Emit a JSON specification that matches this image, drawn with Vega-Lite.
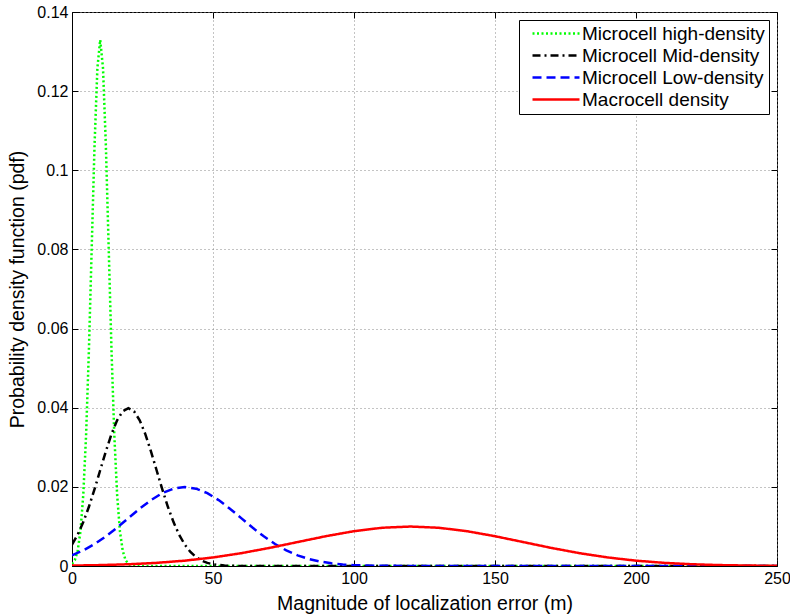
{
  "$schema": "https://vega.github.io/schema/vega-lite/v6.json",
  "autosize": {"type": "none"},
  "padding": {"left": 72, "top": 12, "right": 13, "bottom": 50},
  "width": 705,
  "height": 554,
  "background": "white",
  "config": {
    "font": "Liberation Sans",
    "view": {"stroke": "black", "strokeWidth": 1},
    "axis": {
      "labelFont": "Liberation Sans",
      "titleFont": "Liberation Sans",
      "labelFontSize": 16,
      "titleFontSize": 19.5,
      "labelColor": "black",
      "titleColor": "black",
      "titleFontWeight": "normal",
      "domainColor": "black",
      "tickColor": "black",
      "gridColor": "#888888",
      "gridDash": [1, 3],
      "gridWidth": 1,
      "tickSize": -6,
      "labelPadding": 10,
      "labelFlush": false,
      "labelOverlap": false
    },
    "legend": {
      "title": null, "orient": "top-right", "offset": 8,
      "fillColor": "white", "strokeColor": "black", "padding": 4,
      "symbolType": "M-4,0H4", "symbolSize": 138, "symbolStrokeWidth": 2.5, "symbolOffset": 23.5,
      "labelFontSize": 19, "labelFont": "Liberation Sans", "labelColor": "black",
      "labelLimit": 300, "rowPadding": 2, "labelOffset": 16.5
    }
  },
  "data": {"values": [
    {"s": "Microcell high-density", "x": 0, "y": 0.00051},
    {"s": "Microcell high-density", "x": 1, "y": 0.00148},
    {"s": "Microcell high-density", "x": 2, "y": 0.0038},
    {"s": "Microcell high-density", "x": 3, "y": 0.00874},
    {"s": "Microcell high-density", "x": 4, "y": 0.018},
    {"s": "Microcell high-density", "x": 5, "y": 0.03316},
    {"s": "Microcell high-density", "x": 6, "y": 0.05467},
    {"s": "Microcell high-density", "x": 7, "y": 0.08066},
    {"s": "Microcell high-density", "x": 8, "y": 0.10648},
    {"s": "Microcell high-density", "x": 9, "y": 0.12579},
    {"s": "Microcell high-density", "x": 10, "y": 0.13298},
    {"s": "Microcell high-density", "x": 11, "y": 0.12579},
    {"s": "Microcell high-density", "x": 12, "y": 0.10648},
    {"s": "Microcell high-density", "x": 13, "y": 0.08066},
    {"s": "Microcell high-density", "x": 14, "y": 0.05467},
    {"s": "Microcell high-density", "x": 15, "y": 0.03316},
    {"s": "Microcell high-density", "x": 16, "y": 0.018},
    {"s": "Microcell high-density", "x": 17, "y": 0.00874},
    {"s": "Microcell high-density", "x": 18, "y": 0.0038},
    {"s": "Microcell high-density", "x": 19, "y": 0.00148},
    {"s": "Microcell high-density", "x": 20, "y": 0.00051},
    {"s": "Microcell high-density", "x": 21, "y": 0.00016},
    {"s": "Microcell high-density", "x": 22, "y": 0.00004},
    {"s": "Microcell high-density", "x": 25, "y": 0},
    {"s": "Microcell high-density", "x": 250, "y": 0},

    {"s": "Microcell Mid-density", "x": 0, "y": 0.0054},
    {"s": "Microcell Mid-density", "x": 2, "y": 0.0079},
    {"s": "Microcell Mid-density", "x": 4, "y": 0.01109},
    {"s": "Microcell Mid-density", "x": 6, "y": 0.01497},
    {"s": "Microcell Mid-density", "x": 8, "y": 0.01942},
    {"s": "Microcell Mid-density", "x": 10, "y": 0.0242},
    {"s": "Microcell Mid-density", "x": 12, "y": 0.02897},
    {"s": "Microcell Mid-density", "x": 14, "y": 0.03332},
    {"s": "Microcell Mid-density", "x": 16, "y": 0.03683},
    {"s": "Microcell Mid-density", "x": 18, "y": 0.0391},
    {"s": "Microcell Mid-density", "x": 20, "y": 0.03989},
    {"s": "Microcell Mid-density", "x": 22, "y": 0.0391},
    {"s": "Microcell Mid-density", "x": 24, "y": 0.03683},
    {"s": "Microcell Mid-density", "x": 26, "y": 0.03332},
    {"s": "Microcell Mid-density", "x": 28, "y": 0.02897},
    {"s": "Microcell Mid-density", "x": 30, "y": 0.0242},
    {"s": "Microcell Mid-density", "x": 32, "y": 0.01942},
    {"s": "Microcell Mid-density", "x": 34, "y": 0.01497},
    {"s": "Microcell Mid-density", "x": 36, "y": 0.01109},
    {"s": "Microcell Mid-density", "x": 38, "y": 0.0079},
    {"s": "Microcell Mid-density", "x": 40, "y": 0.0054},
    {"s": "Microcell Mid-density", "x": 42, "y": 0.00355},
    {"s": "Microcell Mid-density", "x": 44, "y": 0.00224},
    {"s": "Microcell Mid-density", "x": 46, "y": 0.00136},
    {"s": "Microcell Mid-density", "x": 48, "y": 0.00079},
    {"s": "Microcell Mid-density", "x": 50, "y": 0.00044},
    {"s": "Microcell Mid-density", "x": 54, "y": 0.00012},
    {"s": "Microcell Mid-density", "x": 60, "y": 0.00001},
    {"s": "Microcell Mid-density", "x": 250, "y": 0},

    {"s": "Microcell Low-density", "x": 0, "y": 0.0027},
    {"s": "Microcell Low-density", "x": 4, "y": 0.00395},
    {"s": "Microcell Low-density", "x": 8, "y": 0.00555},
    {"s": "Microcell Low-density", "x": 12, "y": 0.00749},
    {"s": "Microcell Low-density", "x": 16, "y": 0.00971},
    {"s": "Microcell Low-density", "x": 20, "y": 0.0121},
    {"s": "Microcell Low-density", "x": 24, "y": 0.01448},
    {"s": "Microcell Low-density", "x": 28, "y": 0.01666},
    {"s": "Microcell Low-density", "x": 32, "y": 0.01841},
    {"s": "Microcell Low-density", "x": 36, "y": 0.01955},
    {"s": "Microcell Low-density", "x": 40, "y": 0.01995},
    {"s": "Microcell Low-density", "x": 44, "y": 0.01955},
    {"s": "Microcell Low-density", "x": 48, "y": 0.01841},
    {"s": "Microcell Low-density", "x": 52, "y": 0.01666},
    {"s": "Microcell Low-density", "x": 56, "y": 0.01448},
    {"s": "Microcell Low-density", "x": 60, "y": 0.0121},
    {"s": "Microcell Low-density", "x": 64, "y": 0.00971},
    {"s": "Microcell Low-density", "x": 68, "y": 0.00749},
    {"s": "Microcell Low-density", "x": 72, "y": 0.00555},
    {"s": "Microcell Low-density", "x": 76, "y": 0.00395},
    {"s": "Microcell Low-density", "x": 80, "y": 0.0027},
    {"s": "Microcell Low-density", "x": 84, "y": 0.00177},
    {"s": "Microcell Low-density", "x": 88, "y": 0.00112},
    {"s": "Microcell Low-density", "x": 92, "y": 0.00068},
    {"s": "Microcell Low-density", "x": 96, "y": 0.0004},
    {"s": "Microcell Low-density", "x": 100, "y": 0.00022},
    {"s": "Microcell Low-density", "x": 108, "y": 0.00006},
    {"s": "Microcell Low-density", "x": 120, "y": 0.00001},
    {"s": "Microcell Low-density", "x": 250, "y": 0},

    {"s": "Macrocell density", "x": 0, "y": 0.000111},
    {"s": "Macrocell density", "x": 10, "y": 0.000227},
    {"s": "Macrocell density", "x": 20, "y": 0.000438},
    {"s": "Macrocell density", "x": 30, "y": 0.000794},
    {"s": "Macrocell density", "x": 40, "y": 0.00135},
    {"s": "Macrocell density", "x": 50, "y": 0.002157},
    {"s": "Macrocell density", "x": 60, "y": 0.003238},
    {"s": "Macrocell density", "x": 70, "y": 0.004566},
    {"s": "Macrocell density", "x": 80, "y": 0.006049},
    {"s": "Macrocell density", "x": 90, "y": 0.007529},
    {"s": "Macrocell density", "x": 100, "y": 0.008802},
    {"s": "Macrocell density", "x": 110, "y": 0.009667},
    {"s": "Macrocell density", "x": 120, "y": 0.009974},
    {"s": "Macrocell density", "x": 130, "y": 0.009667},
    {"s": "Macrocell density", "x": 140, "y": 0.008802},
    {"s": "Macrocell density", "x": 150, "y": 0.007529},
    {"s": "Macrocell density", "x": 160, "y": 0.006049},
    {"s": "Macrocell density", "x": 170, "y": 0.004566},
    {"s": "Macrocell density", "x": 180, "y": 0.003238},
    {"s": "Macrocell density", "x": 190, "y": 0.002157},
    {"s": "Macrocell density", "x": 200, "y": 0.00135},
    {"s": "Macrocell density", "x": 210, "y": 0.000794},
    {"s": "Macrocell density", "x": 220, "y": 0.000438},
    {"s": "Macrocell density", "x": 230, "y": 0.000227},
    {"s": "Macrocell density", "x": 240, "y": 0.000111},
    {"s": "Macrocell density", "x": 250, "y": 0.000051}
  ]},
  "layer": [
    {
      "mark": {"type": "line", "strokeWidth": 2.5, "clip": true},
      "encoding": {
        "x": {
          "field": "x", "type": "quantitative",
          "scale": {"domain": [0, 250], "nice": false, "zero": false},
          "axis": {"title": "Magnitude of localization error (m)", "values": [0, 50, 100, 150, 200, 250], "grid": true, "titlePadding": 8}
        },
        "y": {
          "field": "y", "type": "quantitative",
          "scale": {"domain": [0, 0.14], "nice": false},
          "axis": {"title": "Probability density function (pdf)", "values": [0, 0.02, 0.04, 0.06, 0.08, 0.1, 0.12, 0.14], "format": "~g", "grid": true, "titlePadding": 9}
        },
        "color": {
          "field": "s", "type": "nominal",
          "scale": {
            "domain": ["Microcell high-density", "Microcell Mid-density", "Microcell Low-density", "Macrocell density"],
            "range": ["#00ff00", "#000000", "#0000ff", "#ff0000"]
          }
        },
        "strokeDash": {
          "field": "s", "type": "nominal",
          "scale": {
            "domain": ["Microcell high-density", "Microcell Mid-density", "Microcell Low-density", "Macrocell density"],
            "range": [[2, 2.5], [8, 4, 2, 4], [9, 5], [1, 0]]
          }
        }
      }
    },
    {
      "mark": {"type": "line", "opacity": 0},
      "encoding": {
        "x": {
          "field": "x", "type": "quantitative",
          "scale": {"domain": [0, 250], "nice": false, "zero": false},
          "axis": {"orient": "top", "title": null, "labels": false, "grid": false, "domain": false, "values": [0, 50, 100, 150, 200, 250]}
        },
        "y": {
          "field": "y", "type": "quantitative",
          "scale": {"domain": [0, 0.14], "nice": false},
          "axis": {"orient": "right", "title": null, "labels": false, "grid": false, "domain": false, "values": [0, 0.02, 0.04, 0.06, 0.08, 0.1, 0.12, 0.14]}
        },
        "detail": {"field": "s", "type": "nominal"}
      }
    }
  ],
  "resolve": {"axis": {"x": "independent", "y": "independent"}}
}
